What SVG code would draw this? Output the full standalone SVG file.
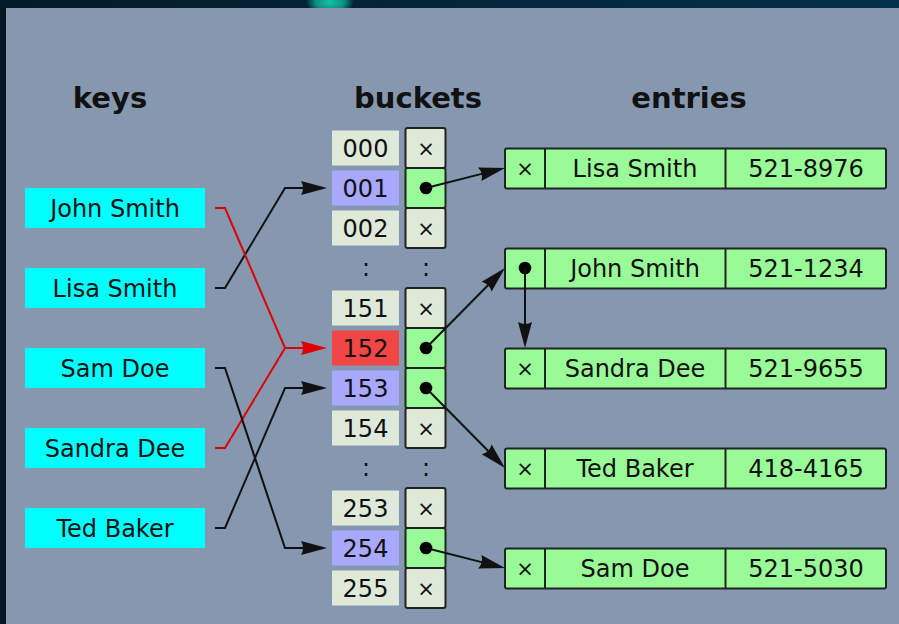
<svg xmlns="http://www.w3.org/2000/svg" width="899" height="624" viewBox="0 0 899 624">
  <defs>
    <linearGradient id="band" x1="0" y1="0" x2="1" y2="0">
      <stop offset="0" stop-color="#051b27"/>
      <stop offset="1" stop-color="#03304a"/>
    </linearGradient>
    <radialGradient id="glow" cx="0.5" cy="0.5" r="0.5">
      <stop offset="0" stop-color="#14c4a4"/>
      <stop offset="0.6" stop-color="#0c8f80"/>
      <stop offset="1" stop-color="#0c8f80" stop-opacity="0"/>
    </radialGradient>
    <marker id="ah" markerUnits="userSpaceOnUse" markerWidth="34" markerHeight="20" viewBox="-8 -10 34 20" refX="0" refY="0" orient="auto">
      <path d="M21,0 L-5,-7 Q-1,0 -5,7 Z" fill="#111"/>
    </marker>
    <marker id="ahRed" markerUnits="userSpaceOnUse" markerWidth="34" markerHeight="20" viewBox="-8 -10 34 20" refX="0" refY="0" orient="auto">
      <path d="M21,0 L-5,-7 Q-1,0 -5,7 Z" fill="#e00000"/>
    </marker>
    <style>
      text { font-family: "DejaVu Sans", "Liberation Sans", sans-serif; fill: #111; text-anchor: middle; }
      .hdr { font-size: 29px; font-weight: bold; }
      .lbl { font-size: 24px; }
      .nil { font-size: 21px; }
      .key { fill: #00ffff; }
      .num { fill: #dfe9da; }
      .hit { fill: #a8a8ff; }
      .col { fill: #f04646; }
      .cell { stroke: #222; stroke-width: 2; }
      .empty { fill: #dfe9da; }
      .ptr { fill: #99fb97; }
      .ent { fill: #99fb97; stroke: #222; stroke-width: 2; }
      .div { stroke: #222; stroke-width: 2; }
      .dot { fill: #000; }
      .wire { fill: none; stroke: #111; stroke-width: 2; }
      .red { fill: none; stroke: #e00000; stroke-width: 2; }
    </style>
  </defs>

  <!-- backdrop -->
  <rect x="0" y="0" width="899" height="624" fill="#04161f"/>
  <rect x="0" y="0" width="899" height="8" fill="url(#band)"/>
  <ellipse cx="330" cy="2" rx="24" ry="14" fill="url(#glow)"/>
  <rect x="6" y="8" width="893" height="616" fill="#8598b0"/>

  <!-- column headers -->
  <g id="headers">
    <text class="hdr" x="110" y="108">keys</text>
    <text class="hdr" x="418" y="108">buckets</text>
    <text class="hdr" x="689" y="108">entries</text>
  </g>

  <!-- keys -->
  <g id="key-john">
    <rect class="key" x="25" y="188" width="180" height="40"/>
    <text class="lbl" x="115" y="216.5">John Smith</text>
  </g>
  <g id="key-lisa">
    <rect class="key" x="25" y="268" width="180" height="40"/>
    <text class="lbl" x="115" y="296.5">Lisa Smith</text>
  </g>
  <g id="key-sam">
    <rect class="key" x="25" y="348" width="180" height="40"/>
    <text class="lbl" x="115" y="376.5">Sam Doe</text>
  </g>
  <g id="key-sandra">
    <rect class="key" x="25" y="428" width="180" height="40"/>
    <text class="lbl" x="115" y="456.5">Sandra Dee</text>
  </g>
  <g id="key-ted">
    <rect class="key" x="25" y="508" width="180" height="40"/>
    <text class="lbl" x="115" y="536.5">Ted Baker</text>
  </g>

  <!-- buckets: index cells -->
  <g id="bucket-index">
    <rect class="num" x="332" y="130.5" width="67" height="35"/>
    <text class="lbl" x="365.5" y="156.5">000</text>
    <rect class="hit" x="332" y="170.5" width="67" height="35"/>
    <text class="lbl" x="365.5" y="196.5">001</text>
    <rect class="num" x="332" y="210.5" width="67" height="35"/>
    <text class="lbl" x="365.5" y="236.5">002</text>
    <text class="lbl" x="366" y="276">:</text>
    <rect class="num" x="332" y="290.5" width="67" height="35"/>
    <text class="lbl" x="365.5" y="316.5">151</text>
    <rect class="col" x="332" y="330.5" width="67" height="35"/>
    <text class="lbl" x="365.5" y="356.5">152</text>
    <rect class="hit" x="332" y="370.5" width="67" height="35"/>
    <text class="lbl" x="365.5" y="396.5">153</text>
    <rect class="num" x="332" y="410.5" width="67" height="35"/>
    <text class="lbl" x="365.5" y="436.5">154</text>
    <text class="lbl" x="366" y="476">:</text>
    <rect class="num" x="332" y="490.5" width="67" height="35"/>
    <text class="lbl" x="365.5" y="516.5">253</text>
    <rect class="hit" x="332" y="530.5" width="67" height="35"/>
    <text class="lbl" x="365.5" y="556.5">254</text>
    <rect class="num" x="332" y="570.5" width="67" height="35"/>
    <text class="lbl" x="365.5" y="596.5">255</text>
  </g>

  <!-- buckets: pointer cells -->
  <g id="bucket-pointers">
    <rect class="cell empty" x="405.5" y="128" width="40" height="40" rx="2"/>
    <text class="nil" x="426" y="155.5">×</text>
    <rect class="cell ptr" x="405.5" y="168" width="40" height="40" rx="2"/>
    <circle class="dot" cx="426" cy="188" r="6.3"/>
    <rect class="cell empty" x="405.5" y="208" width="40" height="40" rx="2"/>
    <text class="nil" x="426" y="235.5">×</text>
    <text class="lbl" x="426" y="276">:</text>
    <rect class="cell empty" x="405.5" y="288" width="40" height="40" rx="2"/>
    <text class="nil" x="426" y="315.5">×</text>
    <rect class="cell ptr" x="405.5" y="328" width="40" height="40" rx="2"/>
    <circle class="dot" cx="426" cy="348" r="6.3"/>
    <rect class="cell ptr" x="405.5" y="368" width="40" height="40" rx="2"/>
    <circle class="dot" cx="426" cy="388" r="6.3"/>
    <rect class="cell empty" x="405.5" y="408" width="40" height="40" rx="2"/>
    <text class="nil" x="426" y="435.5">×</text>
    <text class="lbl" x="426" y="476">:</text>
    <rect class="cell empty" x="405.5" y="488" width="40" height="40" rx="2"/>
    <text class="nil" x="426" y="515.5">×</text>
    <rect class="cell ptr" x="405.5" y="528" width="40" height="40" rx="2"/>
    <circle class="dot" cx="426" cy="548" r="6.3"/>
    <rect class="cell empty" x="405.5" y="568" width="40" height="40" rx="2"/>
    <text class="nil" x="426" y="595.5">×</text>
  </g>

  <!-- entries -->
  <g id="entry-lisa">
    <rect class="ent" x="505" y="148.5" width="381" height="40" rx="2"/>
    <line class="div" x1="545" y1="148.5" x2="545" y2="188.5"/>
    <line class="div" x1="725.5" y1="148.5" x2="725.5" y2="188.5"/>
    <text class="nil" x="525" y="175.5">×</text>
    <text class="lbl" x="635" y="176.5">Lisa Smith</text>
    <text class="lbl" x="806" y="176.5">521-8976</text>
  </g>
  <g id="entry-john">
    <rect class="ent" x="505" y="248.5" width="381" height="40" rx="2"/>
    <line class="div" x1="545" y1="248.5" x2="545" y2="288.5"/>
    <line class="div" x1="725.5" y1="248.5" x2="725.5" y2="288.5"/>
    <circle class="dot" cx="525" cy="268" r="6.3"/>
    <text class="lbl" x="635" y="276.5">John Smith</text>
    <text class="lbl" x="806" y="276.5">521-1234</text>
  </g>
  <g id="entry-sandra">
    <rect class="ent" x="505" y="348.5" width="381" height="40" rx="2"/>
    <line class="div" x1="545" y1="348.5" x2="545" y2="388.5"/>
    <line class="div" x1="725.5" y1="348.5" x2="725.5" y2="388.5"/>
    <text class="nil" x="525" y="375.5">×</text>
    <text class="lbl" x="635" y="376.5">Sandra Dee</text>
    <text class="lbl" x="806" y="376.5">521-9655</text>
  </g>
  <g id="entry-ted">
    <rect class="ent" x="505" y="448.5" width="381" height="40" rx="2"/>
    <line class="div" x1="545" y1="448.5" x2="545" y2="488.5"/>
    <line class="div" x1="725.5" y1="448.5" x2="725.5" y2="488.5"/>
    <text class="nil" x="525" y="475.5">×</text>
    <text class="lbl" x="635" y="476.5">Ted Baker</text>
    <text class="lbl" x="806" y="476.5">418-4165</text>
  </g>
  <g id="entry-sam">
    <rect class="ent" x="505" y="548.5" width="381" height="40" rx="2"/>
    <line class="div" x1="545" y1="548.5" x2="545" y2="588.5"/>
    <line class="div" x1="725.5" y1="548.5" x2="725.5" y2="588.5"/>
    <text class="nil" x="525" y="575.5">×</text>
    <text class="lbl" x="635" y="576.5">Sam Doe</text>
    <text class="lbl" x="806" y="576.5">521-5030</text>
  </g>

  <!-- connectors: hash functions and chain pointers -->
  <g id="connectors">
    <polyline class="wire" points="215,288 225,288 285,188 306,188" marker-end="url(#ah)"/>
    <polyline class="red" points="215,208 225,208 285,348 306,348" marker-end="url(#ahRed)"/>
    <polyline class="red" points="215,448 225,448 285,348"/>
    <polyline class="wire" points="215,368 225,368 285,548 306,548" marker-end="url(#ah)"/>
    <polyline class="wire" points="215,528 225,528 285,388 306,388" marker-end="url(#ah)"/>
    <line class="wire" x1="426" y1="188" x2="484.6" y2="173.1" marker-end="url(#ah)"/>
    <line class="wire" x1="426" y1="348" x2="490.2" y2="283" marker-end="url(#ah)"/>
    <line class="wire" x1="426" y1="388" x2="490.2" y2="453" marker-end="url(#ah)"/>
    <line class="wire" x1="426" y1="548" x2="484.6" y2="562.9" marker-end="url(#ah)"/>
    <line class="wire" x1="525" y1="268" x2="525" y2="327" marker-end="url(#ah)"/>
  </g>
</svg>
